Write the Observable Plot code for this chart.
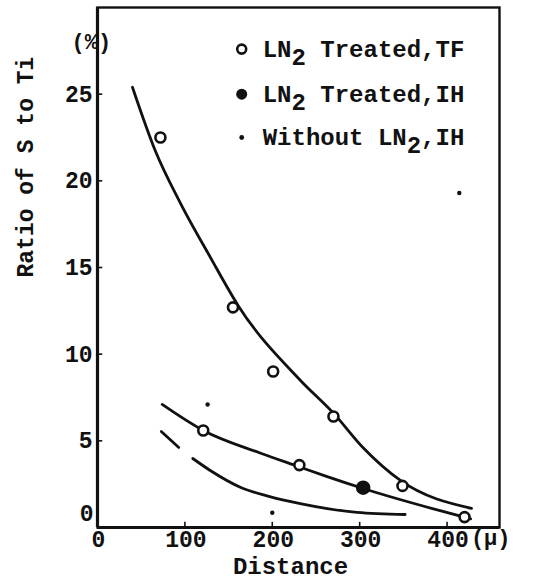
<!DOCTYPE html>
<html>
<head>
<meta charset="utf-8">
<script src="https://cdn.jsdelivr.net/npm/d3@7"></script>
<script src="https://cdn.jsdelivr.net/npm/@observablehq/plot@0.6"></script>
<style>
  html, body { margin: 0; padding: 0; background: #fff; }
</style>
</head>
<body>
<div id="chart"></div>
<script>
// Measured points: distance (μ) vs ratio of S to Ti (%)
const tfDistance = [72, 121, 155, 201, 231, 270, 349, 420];
const tfRatio    = [22.5, 5.6, 12.7, 9.0, 3.6, 6.4, 2.4, 0.6];
const ihDistance = [304];
const ihRatio    = [2.3];
const woDistance = [126, 200, 414];
const woRatio    = [7.1, 0.85, 19.3];

// Hand-drawn trend curves
const upperCurveX = [40, 66, 95, 129, 161, 232, 270, 304, 347, 428];
const upperCurveY = [25.4, 21.75, 18.7, 15.6, 12.8, 8.5, 6.6, 4.6, 2.7, 1.1];
const middleCurveX = [74, 121, 186, 231, 262, 304, 392, 427];
const middleCurveY = [7.1, 5.6, 4.3, 3.5, 2.95, 2.25, 0.97, 0.5];
const lowerCurveAX = [73, 93];
const lowerCurveAY = [5.54, 4.62];
const lowerCurveBX = [109, 129, 164, 196, 232, 297, 352];
const lowerCurveBY = [3.98, 3.29, 2.31, 1.8, 1.38, 0.87, 0.75];

// Axis ticks
const xTicks = [0, 100, 200, 300, 400];
const yTicks = [0, 5, 10, 15, 20, 25];

// Legend entries
const legendLabels = ["LN2 Treated,TF", "LN2 Treated,IH", "Without LN2,IH"];
const legendRowY = [27.6, 25.0, 22.5];
const legendSymbolX = 165;
const legendTextX = 189;

const pts = (xs, ys) => xs.map((x, i) => ({x, y: ys[i]}));
const ink = "#111";
const font = "'Liberation Mono', 'DejaVu Sans Mono', monospace";

const chart = Plot.plot({
  width: 533,
  height: 588,
  marginLeft: 97,
  marginRight: 34,
  marginTop: 7,
  marginBottom: 61,
  x: {domain: [0, 460], axis: null},
  y: {domain: [0, 30], axis: null},
  style: {background: "#fff", color: ink, fontFamily: font, fontWeight: "bold"},
  marks: [
    Plot.frame({stroke: ink, strokeWidth: 2.4}),
    Plot.ruleX([0], {stroke: ink, strokeWidth: 3.2}),
    Plot.ruleY([0], {stroke: ink, strokeWidth: 3.2}),

    // inward tick marks
    Plot.ruleX(xTicks.slice(1), {x: d => d, y1: 0, y2: 0.3, stroke: ink, strokeWidth: 1.6}),
    Plot.ruleY(yTicks.slice(1), {y: d => d, x1: 0, x2: 6, stroke: ink, strokeWidth: 1.6}),

    // tick labels
    Plot.text(xTicks, {x: d => d, frameAnchor: "bottom", dx: 1, dy: 19, text: d => String(d),
      fontSize: 23, fill: ink}),
    Plot.text(yTicks.filter(d => d > 0), {y: d => d, frameAnchor: "left", dx: -5,
      textAnchor: "end", text: d => String(d), fontSize: 23, fill: ink}),
    Plot.text(yTicks.filter(d => d === 0), {y: d => d, frameAnchor: "left", dx: -4, dy: -14,
      textAnchor: "end", text: d => String(d), fontSize: 23, fill: ink}),

    // unit and axis titles
    Plot.text(["(%)"], {frameAnchor: "top-left", dx: -26, dy: 26, fontSize: 22, fill: ink}),
    Plot.text(["(\u03bc)"], {frameAnchor: "bottom-right", dx: 11, dy: 17, fontSize: 22, fill: ink}),
    Plot.text(["Ratio of S to Ti"], {frameAnchor: "left", dx: -72, dy: 10, rotate: -90,
      fontSize: 23, fill: ink}),
    Plot.text(["Distance"], {frameAnchor: "bottom", dx: -8, dy: 46, fontSize: 24, fill: ink}),

    // curves
    Plot.line(pts(upperCurveX, upperCurveY), {x: "x", y: "y", curve: "monotone-x", stroke: ink, strokeWidth: 2.8}),
    Plot.line(pts(middleCurveX, middleCurveY), {x: "x", y: "y", curve: "monotone-x", stroke: ink, strokeWidth: 2.8}),
    Plot.line(pts(lowerCurveAX, lowerCurveAY), {x: "x", y: "y", curve: "monotone-x", stroke: ink, strokeWidth: 2.8}),
    Plot.line(pts(lowerCurveBX, lowerCurveBY), {x: "x", y: "y", curve: "monotone-x", stroke: ink, strokeWidth: 2.8}),

    // data points
    Plot.dot(pts(tfDistance, tfRatio), {x: "x", y: "y", r: 5, fill: "#fff", stroke: ink, strokeWidth: 2.6}),
    Plot.dot(pts(ihDistance, ihRatio), {x: "x", y: "y", r: 6.5, fill: ink, stroke: ink}),
    Plot.dot(pts(woDistance, woRatio), {x: "x", y: "y", r: 2.2, fill: ink, stroke: null}),

    // legend
    Plot.dot([0], {x: legendSymbolX, y: legendRowY[0], r: 4.5, fill: "#fff", stroke: ink, strokeWidth: 2.6}),
    Plot.dot([0], {x: legendSymbolX, y: legendRowY[1], r: 5.5, fill: ink, stroke: null}),
    Plot.dot([0], {x: legendSymbolX, y: legendRowY[2], r: 2.4, fill: ink, stroke: null}),
    Plot.text(legendLabels, {x: legendTextX, y: (d, i) => legendRowY[i], text: d => d,
      textAnchor: "start", fontSize: 24, fill: ink})
  ]
});

// Set the "2" of LN2 as a subscript
d3.select(chart).selectAll("text")
  .filter(function() { return this.textContent.includes("LN2"); })
  .each(function() {
    const s = this.textContent;
    const k = s.indexOf("LN2");
    const t = d3.select(this);
    t.text(null);
    t.append("tspan").text(s.slice(0, k + 2));
    t.append("tspan").attr("dy", 8).text("2");
    t.append("tspan").attr("dy", -8).text(s.slice(k + 3));
  });

document.getElementById("chart").appendChild(chart);
</script>
</body>
</html>
